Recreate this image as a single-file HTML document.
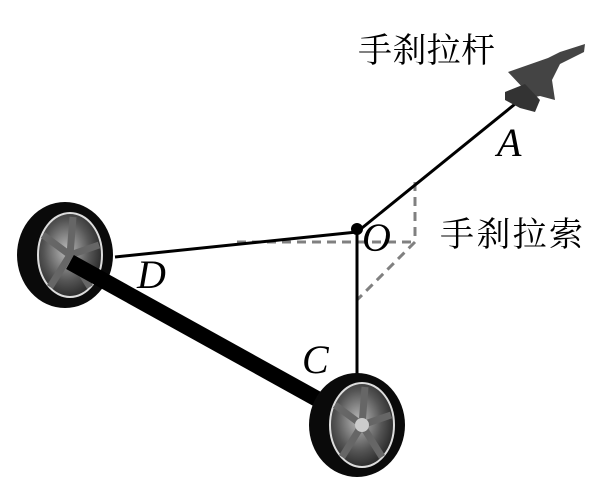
<!DOCTYPE html>
<html><head><meta charset="utf-8"><style>
body{margin:0;background:#fff;width:604px;height:488px;overflow:hidden}
</style></head><body>
<svg width="604" height="488" viewBox="0 0 604 488" xmlns="http://www.w3.org/2000/svg">
<defs>
<radialGradient id="rim" cx="45%" cy="45%" r="60%">
<stop offset="0" stop-color="#bbb"/><stop offset="0.6" stop-color="#555"/><stop offset="1" stop-color="#222"/>
</radialGradient>
</defs>
<g stroke="#808080" stroke-width="3" stroke-dasharray="9,6" fill="none">
<line x1="237" y1="242" x2="415" y2="242"/>
<line x1="415" y1="182" x2="415" y2="242"/>
<line x1="415" y1="242" x2="357" y2="300"/>
</g>
<g stroke="#000" stroke-width="3">
<line x1="357" y1="232" x2="520" y2="100"/>
<line x1="115" y1="257" x2="357" y2="232"/>
<line x1="357" y1="232" x2="357" y2="375"/>
</g>
<circle cx="357" cy="229" r="6" fill="#000"/>
<g transform="translate(65,255)">
<ellipse cx="0" cy="0" rx="48" ry="53" fill="#0a0a0a"/>
<ellipse cx="5" cy="0" rx="32" ry="42" fill="url(#rim)" stroke="#ddd" stroke-width="2"/>
<g stroke="#666" stroke-width="7">
<line x1="5" y1="0" x2="8" y2="-38"/><line x1="5" y1="0" x2="34" y2="-10"/>
<line x1="5" y1="0" x2="25" y2="32"/><line x1="5" y1="0" x2="-15" y2="32"/><line x1="5" y1="0" x2="-22" y2="-20"/>
</g>
</g>
<line x1="70" y1="262" x2="328" y2="405" stroke="#000" stroke-width="16"/>
<g transform="translate(357,425)">
<ellipse cx="0" cy="0" rx="48" ry="52" fill="#0a0a0a"/>
<ellipse cx="5" cy="0" rx="32" ry="42" fill="url(#rim)" stroke="#ddd" stroke-width="2"/>
<g stroke="#666" stroke-width="7">
<line x1="5" y1="0" x2="8" y2="-38"/><line x1="5" y1="0" x2="34" y2="-10"/>
<line x1="5" y1="0" x2="25" y2="32"/><line x1="5" y1="0" x2="-15" y2="32"/><line x1="5" y1="0" x2="-22" y2="-20"/>
</g>
<circle cx="5" cy="0" r="7" fill="#ccc"/>
</g>
<path d="M508,72 L548,58 L560,52 L585,44 L584,52 L560,64 L552,80 L555,100 L540,96 L530,98 L525,90 Z" fill="#444"/>
<path d="M505,92 L525,84 L540,100 L535,112 L520,108 L505,100 Z" fill="#333"/>
<g font-family="Liberation Serif, Noto Serif CJK SC, serif" font-size="34" fill="#000">
<text x="358" y="62" textLength="137">手刹拉杆</text>
<text x="440" y="246" textLength="143">手刹拉索</text>
</g>
<g font-family="Liberation Serif, serif" font-style="italic" font-size="40" fill="#000">
<text x="497" y="156">A</text>
<text x="362" y="251">O</text>
<text x="137" y="288">D</text>
<text x="302" y="373">C</text>
</g>
</svg>
</body></html>
